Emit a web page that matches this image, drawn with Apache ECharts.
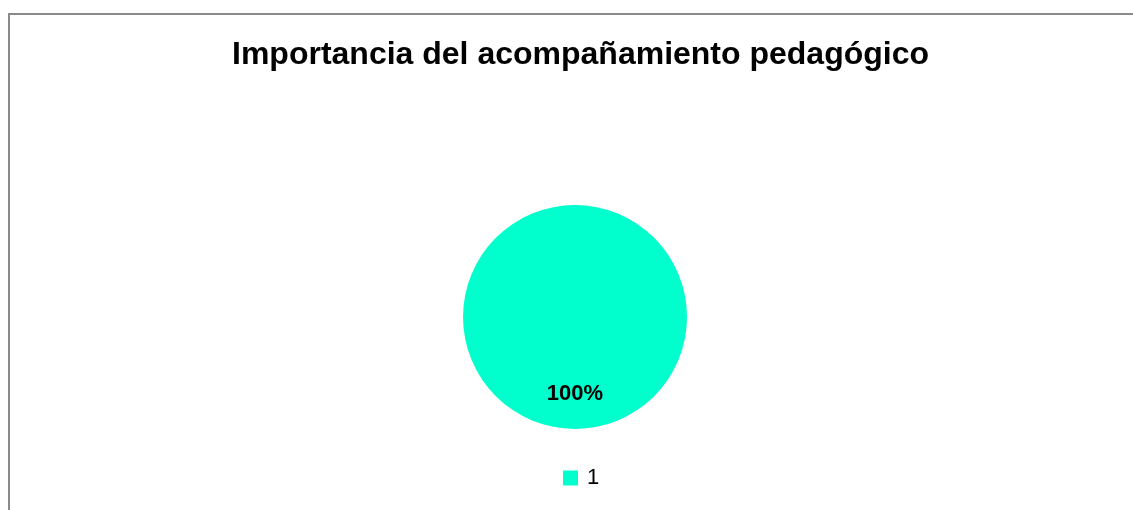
<!DOCTYPE html>
<html>
<head>
<meta charset="utf-8">
<script src="https://cdn.jsdelivr.net/npm/echarts@6/dist/echarts.min.js"></script>
<style>
  html, body { margin: 0; padding: 0; background: #fff; }
  #frame {
    position: absolute; left: 8px; top: 13px; width: 1140px; height: 520px;
    border-top: 2px solid #8a8a8a; border-left: 2px solid #8a8a8a;
  }
  #chart { position: absolute; left: 0; top: 0; width: 1133px; height: 510px; }
</style>
</head>
<body>
<div id="frame"></div>
<div id="chart"></div>
<script>
// datos del gráfico
var categorias = ['1'];
var valores = [100];

var chart = echarts.init(document.getElementById('chart'));

var option = {
  animation: false,
  title: {
    text: 'Importancia del acompañamiento pedagógico',
    left: 227,
    top: 34,
    textStyle: {
      fontFamily: 'Liberation Sans',
      fontSize: 32,
      fontWeight: 'bold',
      color: '#000'
    }
  },
  legend: {
    data: categorias,
    left: 558,
    top: 462,
    icon: 'rect',
    itemWidth: 15,
    itemHeight: 15,
    textStyle: {
      fontFamily: 'Liberation Sans',
      fontSize: 22,
      color: '#000',
      padding: [0, 0, 0, 4]
    }
  },
  series: [{
    type: 'pie',
    center: [575, 317],
    radius: 112,
    color: ['#00FFCC'],
    label: {
      position: 'inside',
      formatter: '{d}%',
      fontFamily: 'Liberation Sans',
      fontSize: 22,
      fontWeight: 'bold',
      color: '#000'
    },
    labelLayout: { dy: 18 },
    labelLine: { show: false },
    emphasis: { disabled: true },
    data: categorias.map(function (c, i) {
      return { name: c, value: valores[i] };
    })
  }]
};

chart.setOption(option);
</script>
</body>
</html>
